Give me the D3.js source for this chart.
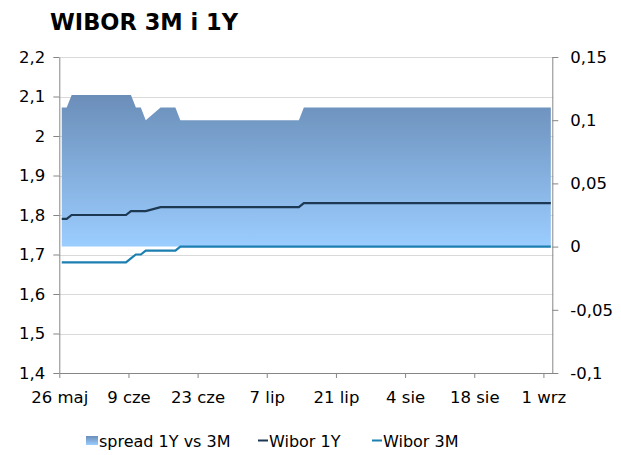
<!DOCTYPE html>
<html>
<head>
<meta charset="utf-8">
<script src="https://cdn.jsdelivr.net/npm/d3@7"></script>
<style>
  body { margin: 0; background: #fff; }
  svg text { font-family: 'DejaVu Sans', Verdana, sans-serif; fill: #000; }
</style>
</head>
<body>
<div id="chart"></div>
<script>
// data (2015 fixings, only the days where something changes)
const dates = ['2015-05-26', '2015-05-27', '2015-05-28', '2015-06-08', '2015-06-09',
  '2015-06-10', '2015-06-11', '2015-06-12', '2015-06-15', '2015-06-18', '2015-06-19',
  '2015-07-13', '2015-07-14', '2015-09-02'];
const wibor1Y = [1.79, 1.79, 1.80, 1.80, 1.81, 1.81, 1.81, 1.81, 1.82, 1.82, 1.82, 1.82, 1.83, 1.83];
const wibor3M = [1.68, 1.68, 1.68, 1.68, 1.69, 1.70, 1.70, 1.71, 1.71, 1.71, 1.72, 1.72, 1.72, 1.72];
const spread = [0.11, 0.11, 0.12, 0.12, 0.12, 0.11, 0.11, 0.10, 0.11, 0.11, 0.10, 0.10, 0.11, 0.11];

const tickDates = ['2015-05-26', '2015-06-09', '2015-06-23', '2015-07-07', '2015-07-21',
  '2015-08-04', '2015-08-18', '2015-09-01'];
const tickLabels = ['26 maj', '9 cze', '23 cze', '7 lip', '21 lip', '4 sie', '18 sie', '1 wrz'];
const leftTicks = [1.4, 1.5, 1.6, 1.7, 1.8, 1.9, 2.0, 2.1, 2.2];
const rightTicks = [-0.1, -0.05, 0, 0.05, 0.1, 0.15];

const seriesNames = ['spread 1Y vs 3M', 'Wibor 1Y', 'Wibor 3M'];
const colors = { top: '#6b8eb9', bottom: '#9bcdff', y1: '#1d3853', m3: '#1c7fb2', axis: '#868686', grid: '#d9d9d9' };

const W = 621;
const H = 455;
const plot = { left: 59.3, right: 553.3, top: 57, bottom: 373 };

const parse = d3.timeParse('%Y-%m-%d');
const pl = d3.formatLocale({ decimal: ',', thousands: ' ', grouping: [3], currency: ['', ' zł'], minus: '-' });
const fmt = pl.format('.2~f');

const rows = dates.map((d, i) => ({
  date: d3.timeHour.offset(parse(d), 12),
  y1: wibor1Y[i],
  m3: wibor3M[i],
  spread: spread[i],
}));

const svg = d3.select('#chart').append('svg')
  .attr('width', W)
  .attr('height', H);

const x = d3.scaleTime()
  .domain([parse('2015-05-26'), parse('2015-09-03')])
  .range([plot.left, plot.right]);
const yL = d3.scaleLinear().domain([1.4, 2.2]).range([plot.bottom, plot.top]);
const yR = d3.scaleLinear().domain([-0.1, 0.15]).range([plot.bottom, plot.top]);

// title
svg.append('text')
  .attr('x', 50)
  .attr('y', 30)
  .attr('font-size', '22.5px')
  .attr('font-weight', 'bold')
  .text('WIBOR 3M i 1Y');

// gridlines
svg.append('g')
  .selectAll('line')
  .data(leftTicks.slice(1))
  .join('line')
  .attr('x1', plot.left)
  .attr('x2', plot.right)
  .attr('y1', (d) => Math.round(yL(d)) + 0.5)
  .attr('y2', (d) => Math.round(yL(d)) + 0.5)
  .attr('stroke', colors.grid);

const defs = svg.append('defs');
const gradient = defs.append('linearGradient')
  .attr('id', 'spreadGradient')
  .attr('x1', 0).attr('x2', 0)
  .attr('y1', 0).attr('y2', 1);
gradient.append('stop').attr('offset', '0%').attr('stop-color', colors.top);
gradient.append('stop').attr('offset', '100%').attr('stop-color', colors.bottom);

// spread area, right axis
svg.append('path')
  .datum(rows)
  .attr('fill', 'url(#spreadGradient)')
  .attr('d', d3.area()
    .x((d) => x(d.date))
    .y0(yR(0))
    .y1((d) => yR(d.spread)));

// lines, left axis
svg.append('path')
  .datum(rows)
  .attr('fill', 'none')
  .attr('stroke', colors.y1)
  .attr('stroke-width', 2.2)
  .attr('d', d3.line().x((d) => x(d.date)).y((d) => yL(d.y1)));

svg.append('path')
  .datum(rows)
  .attr('fill', 'none')
  .attr('stroke', colors.m3)
  .attr('stroke-width', 2.2)
  .attr('d', d3.line().x((d) => x(d.date)).y((d) => yL(d.m3)));

// axes
const styleAxis = (g) => {
  g.select('.domain').attr('stroke', colors.axis);
  g.selectAll('.tick line').attr('stroke', colors.axis);
  g.selectAll('.tick text').attr('font-size', '16.5px').attr('fill', '#000');
};

svg.append('g')
  .attr('transform', `translate(${plot.left},0)`)
  .call(d3.axisLeft(yL).tickValues(leftTicks).tickFormat(fmt).tickSize(6).tickPadding(8).tickSizeOuter(0))
  .call(styleAxis);

svg.append('g')
  .attr('transform', `translate(${plot.right - 1},0)`)
  .call(d3.axisRight(yR).tickValues(rightTicks).tickFormat(fmt).tickSize(6).tickPadding(12).tickSizeOuter(0))
  .call(styleAxis);

svg.append('g')
  .attr('transform', `translate(0,${plot.bottom})`)
  .call(d3.axisBottom(x)
    .tickValues(tickDates.map(parse))
    .tickFormat((d, i) => tickLabels[i])
    .tickSize(5)
    .tickPadding(13)
    .tickSizeOuter(0))
  .call(styleAxis);

// legend
const legend = svg.append('g').attr('font-size', '16px');
legend.append('rect')
  .attr('x', 86).attr('y', 436)
  .attr('width', 12).attr('height', 9)
  .attr('fill', 'url(#spreadGradient)');
legend.append('text').attr('x', 99).attr('y', 447).text(seriesNames[0]);

legend.append('line')
  .attr('x1', 258).attr('x2', 268)
  .attr('y1', 440.5).attr('y2', 440.5)
  .attr('stroke', colors.y1).attr('stroke-width', 2);
legend.append('text').attr('x', 269).attr('y', 447).text(seriesNames[1]);

legend.append('line')
  .attr('x1', 372).attr('x2', 382)
  .attr('y1', 440.5).attr('y2', 440.5)
  .attr('stroke', colors.m3).attr('stroke-width', 2);
legend.append('text').attr('x', 383).attr('y', 447).text(seriesNames[2]);
</script>
</body>
</html>
